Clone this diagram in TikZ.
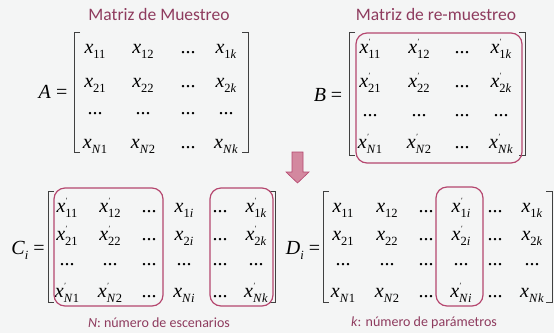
\documentclass[tikz,border=0pt]{standalone}
\usepackage{fontspec}
\newfontfamily\carlito{Carlito}
\newfontfamily\tms{Liberation Serif}

\definecolor{titlered}{HTML}{8E3B5E}
\definecolor{boxred}{HTML}{B5476F}
\definecolor{arrowfill}{HTML}{D3889F}
\definecolor{bggrey}{HTML}{F4F5F5}

% x con subindice, y x con prima
\newcommand{\ent}[1]{\textit{x}\raisebox{-5pt}{\fontsize{12.5}{12.5}\selectfont #1}}
\newcommand{\entp}[1]{\textit{x}\makebox[0pt][l]{\raisebox{9pt}{\kern0.5pt\fontsize{8}{8}\selectfont ′}}\raisebox{-5pt}{\fontsize{12.5}{12.5}\selectfont #1}}

\tikzset{
  entry/.style={anchor=base, inner sep=0pt, font=\tms\fontsize{20}{24}\selectfont},
  heading/.style={text=titlered, font=\carlito\fontsize{17.5}{20}\selectfont},
  note/.style={text=titlered, font=\carlito\fontsize{14}{16}\selectfont},
  selbox/.style={draw=boxred, line width=1.2pt, rounded corners=11pt},
  brack/.style={draw=black!75, line width=0.6pt}
}

\begin{document}
\begin{tikzpicture}[x=1pt, y=-1pt]
  \fill[bggrey] (0,0) rectangle (554,333);
  \useasboundingbox (0,0) rectangle (554,333);

  % Matriz de muestreo A
  \node[heading] (titleA) at (159,14) {Matriz de Muestreo};
  \node[entry] (A) at (53,98) {\textit{A} =};
  \foreach \r/\rl/\y in {1/1/53, 2/2/87, N/\textit{N}/148} {
    \foreach \c/\cl/\x in {1/1/95, 2/2/143, k/\textit{k}/226}
      \node[entry] (a-\r\c) at (\x,\y) {\ent{\rl\cl}};
    \node[entry] (a-\r d) at (188,\y) {...};
  }
  \foreach \x in {95, 143, 188, 226}
    \node[entry] (a-d\x) at (\x,114) {...};
  \draw[brack] (80,32) -- (74,32) -- (74,152) -- (80,152);
  \draw[brack] (242,32) -- (248,32) -- (248,152) -- (242,152);

  % Matriz de re-muestreo B
  \node[heading] (titleB) at (436,14) {Matriz de re-muestreo};
  \node[entry] (B) at (328,101) {\textit{B} =};
  \foreach \r/\rl/\y in {1/1/53, 2/2/87, N/\textit{N}/148} {
    \foreach \c/\cl/\x in {1/1/370, 2/2/419, k/\textit{k}/501}
      \node[entry] (b-\r\c) at (\x,\y) {\entp{\rl\cl}};
    \node[entry] (b-\r d) at (462,\y) {...};
  }
  \foreach \x in {370, 419, 462, 501}
    \node[entry] (b-d\x) at (\x,116) {...};
  \draw[brack] (355,32) -- (349,32) -- (349,155) -- (355,155);
  \draw[brack] (519,32) -- (525,32) -- (525,155) -- (519,155);
  \draw[selbox] (356,33) rectangle (522,163);

  % flecha
  \filldraw[fill=arrowfill, draw=boxred, line width=0.6pt]
    (292,152) -- (303,152) -- (303,172) -- (309,172) -- (297.5,183)
    -- (286,172) -- (292,172) -- cycle;

  % Matriz C_i
  \node[entry] (C) at (28,254) {\textit{C}\raisebox{-5pt}{\fontsize{12.5}{12.5}\selectfont\textit{i}} =};
  \foreach \r/\rl/\y in {1/1/212, 2/2/240, N/\textit{N}/297} {
    \node[entry] (c-\r1) at (67,\y) {\entp{\rl1}};
    \node[entry] (c-\r2) at (110,\y) {\entp{\rl2}};
    \node[entry] (c-\r d) at (149,\y) {...};
    \node[entry] (c-\r i) at (184,\y) {\ent{\rl\textit{i}}};
    \node[entry] (c-\r e) at (220,\y) {...};
    \node[entry] (c-\r k) at (256,\y) {\entp{\rl\textit{k}}};
  }
  \foreach \x in {67, 110, 149, 184, 220, 256}
    \node[entry] (c-d\x) at (\x,265) {...};
  \draw[brack] (54,191) -- (48,191) -- (48,302) -- (54,302);
  \draw[brack] (269,191) -- (275,191) -- (275,302) -- (269,302);
  \draw[selbox] (54,188) rectangle (163,306);
  \draw[selbox] (210,188) rectangle (273,306);

  % Matriz D_i
  \node[entry] (D) at (303,254) {\textit{D}\raisebox{-5pt}{\fontsize{12.5}{12.5}\selectfont\textit{i}} =};
  \foreach \r/\rl/\y in {1/1/212, 2/2/240, N/\textit{N}/297} {
    \node[entry] (d-\r1) at (343,\y) {\ent{\rl1}};
    \node[entry] (d-\r2) at (387,\y) {\ent{\rl2}};
    \node[entry] (d-\r d) at (426,\y) {...};
    \node[entry] (d-\r i) at (461,\y) {\entp{\rl\textit{i}}};
    \node[entry] (d-\r e) at (495,\y) {...};
    \node[entry] (d-\r k) at (532,\y) {\ent{\rl\textit{k}}};
  }
  \foreach \x in {343, 387, 426, 461, 495, 532}
    \node[entry] (d-d\x) at (\x,265) {...};
  \draw[brack] (329,191) -- (323,191) -- (323,302) -- (329,302);
  \draw[brack] (546,191) -- (552,191) -- (552,302) -- (546,302);
  \draw[selbox] (436,187) rectangle (483,306);

  % notas
  \node[note] (noteN) at (159,323) {\textit{N}: número de escenarios};
  \node[note] (noteK) at (424,323) {\textit{k}: número de parámetros};
\end{tikzpicture}
\end{document}
